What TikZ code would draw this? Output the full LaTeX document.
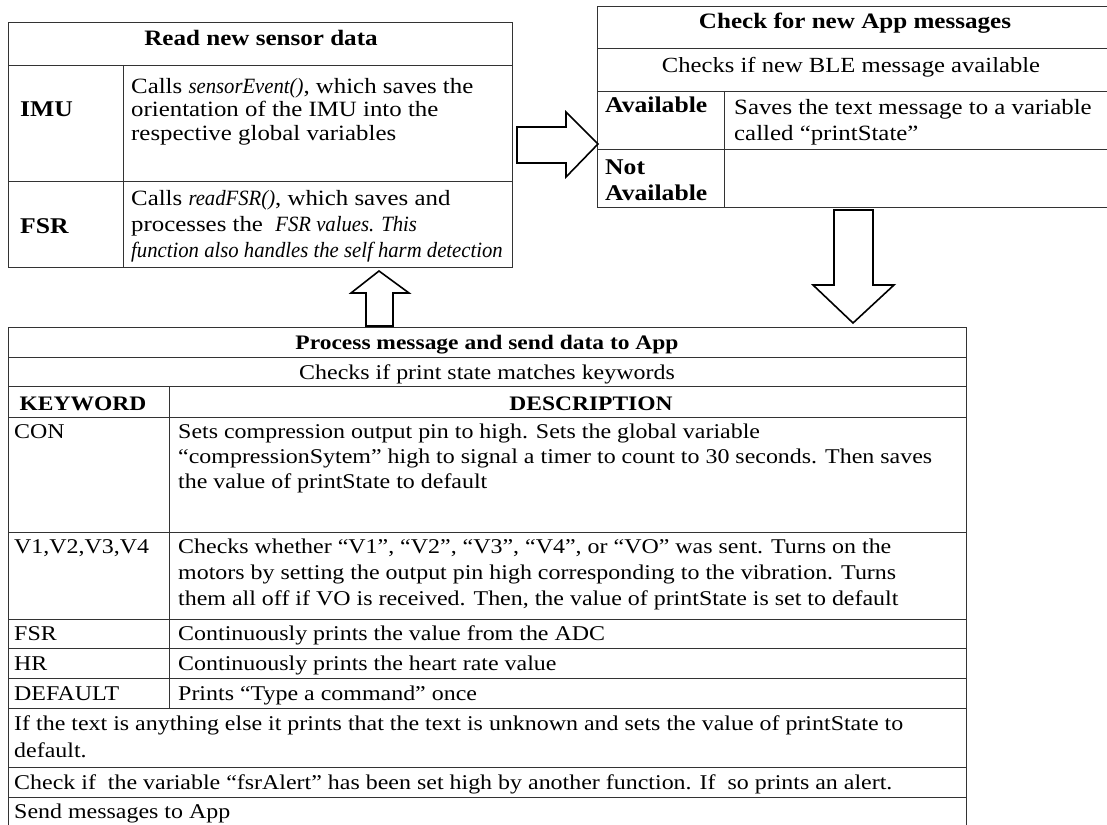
\documentclass[tikz,border=0pt]{standalone}
\usepackage{fontspec}
\setmainfont{Liberation Serif}[FakeStretch=1.14]
\newfontfamily\itfam{Liberation Serif}[FakeStretch=0.95]
\newcommand{\myit}[1]{{\itfam\itshape #1}}
\begin{document}
\begin{tikzpicture}[x=1pt,y=-1pt,
  grid/.style={draw=black!80, line width=0.9pt},
  bigtxt/.style={anchor=base west, inner sep=0pt, font=\fontsize{21}{25}\selectfont},
  bigctr/.style={anchor=base, inner sep=0pt, font=\fontsize{21}{25}\selectfont},
  bighd/.style={anchor=base, inner sep=0pt, font=\fontsize{20.6}{25}\selectfont\bfseries},
  smtxt/.style={anchor=base west, inner sep=0pt, font=\fontsize{21.8}{25}\selectfont},
  smctr/.style={anchor=base, inner sep=0pt, font=\fontsize{21.6}{25}\selectfont},
  smhd/.style={anchor=base, inner sep=0pt, font=\fontsize{22}{25}\selectfont\bfseries},
  smlbl/.style={anchor=base west, inner sep=0pt, font=\fontsize{22.5}{25}\selectfont\bfseries},
  blockarrow/.style={draw=black, line width=1.6pt, fill=white, line join=miter}
]
\path[use as bounding box, clip] (0,0) rectangle (1107,824);

% ---------- Left table: Read new sensor data ----------
\draw[grid] (8,22) rectangle (512,267);
\draw[grid] (8,65) -- (512,65);
\draw[grid] (8,181) -- (512,181);
\draw[grid] (123,65) -- (123,267);
\node[smhd] (s-title) at (261,46) {Read new sensor data};
\node[smlbl] (s-imu) at (20,117) {IMU};
\node[smtxt] (s-imu1) at (131,94) {Calls \myit{sensorEvent()}, which saves the};
\node[smtxt] (s-imu2) at (131,117) {orientation of the IMU into the};
\node[smtxt] (s-imu3) at (131,140) {respective global variables};
\node[smlbl] (s-fsr) at (20,233) {FSR};
\node[smtxt] (s-fsr1) at (131,205) {Calls \myit{readFSR()}, which saves and};
\node[smtxt] (s-fsr2) at (131,231) {processes the \ \myit{FSR values. This}};
\node[smtxt] (s-fsr3) at (131,257) {\myit{function also handles the self harm detection}};

% ---------- Right table: Check for new App messages ----------
\draw[grid] (1110,6) -- (597,6) -- (597,207) -- (1110,207);
\draw[grid] (597,48) -- (1110,48);
\draw[grid] (597,91) -- (1110,91);
\draw[grid] (597,149) -- (1110,149);
\draw[grid] (724,91) -- (724,207);
\node[smhd] (a-title) at (855,29) {Check for new App messages};
\node[smctr] (a-check) at (851,73) {Checks if new BLE message available};
\node[smlbl] (a-av) at (605,113) {Available};
\node[smtxt] (a-av1) at (734,114) {Saves the text message to a variable};
\node[smtxt] (a-av2) at (734,140) {called “printState”};
\node[smlbl] (a-nav1) at (605,174) {Not};
\node[smlbl] (a-nav2) at (605,200) {Available};

% ---------- Bottom table: Process message ----------
\draw[grid] (8,830) -- (8,327) -- (966,327) -- (966,830);
\foreach \yy in {357,386,417,532,619,648,678,708,767,797}
  \draw[grid] (8,\yy) -- (966,\yy);
\draw[grid] (169,386) -- (169,708);
\node[bighd] (p-title) at (487,349) {Process message and send data to App};
\node[bigctr] (p-check) at (487,379) {Checks if print state matches keywords};
\node[bighd] (p-kw) at (83,410) {KEYWORD};
\node[bighd] (p-desc) at (591,410) {DESCRIPTION};
\node[bigtxt] (p-con) at (14,438) {CON};
\node[bigtxt] (p-con1) at (178,438) {Sets compression output pin to high. Sets the global variable};
\node[bigtxt] (p-con2) at (178,463) {“compressionSytem” high to signal a timer to count to 30 seconds. Then saves};
\node[bigtxt] (p-con3) at (178,488) {the value of printState to default};
\node[bigtxt] (p-v) at (14,553) {V1,V2,V3,V4};
\node[bigtxt] (p-v1) at (178,553) {Checks whether “V1”, “V2”, “V3”, “V4”, or “VO” was sent. Turns on the};
\node[bigtxt] (p-v2) at (178,579) {motors by setting the output pin high corresponding to the vibration. Turns};
\node[bigtxt] (p-v3) at (178,605) {them all off if VO is received. Then, the value of printState is set to default};
\node[bigtxt] (p-fsr) at (14,640) {FSR};
\node[bigtxt] (p-fsr1) at (178,640) {Continuously prints the value from the ADC};
\node[bigtxt] (p-hr) at (14,670) {HR};
\node[bigtxt] (p-hr1) at (178,670) {Continuously prints the heart rate value};
\node[bigtxt] (p-def) at (14,700) {DEFAULT};
\node[bigtxt] (p-def1) at (178,700) {Prints “Type a command” once};
\node[bigtxt] (p-else1) at (14,730) {If the text is anything else it prints that the text is unknown and sets the value of printState to};
\node[bigtxt] (p-else2) at (14,757) {default.};
\node[bigtxt] (p-alert) at (14,789) {Check if \ the variable “fsrAlert” has been set high by another function. If \ so prints an alert.};
\node[bigtxt] (p-send) at (14,818) {Send messages to App};

% ---------- Block arrows ----------
\draw[blockarrow] (517,127) -- (566,127) -- (566,112) -- (598,144) -- (566,177) -- (566,163) -- (517,163) -- cycle;
\draw[blockarrow] (834,210) -- (873,210) -- (873,285) -- (894,285) -- (853,323) -- (813,285) -- (834,285) -- cycle;
\draw[blockarrow] (366,326) -- (366,293) -- (351,293) -- (379,271) -- (409,293) -- (393,293) -- (393,326) -- cycle;
\end{tikzpicture}
\end{document}
